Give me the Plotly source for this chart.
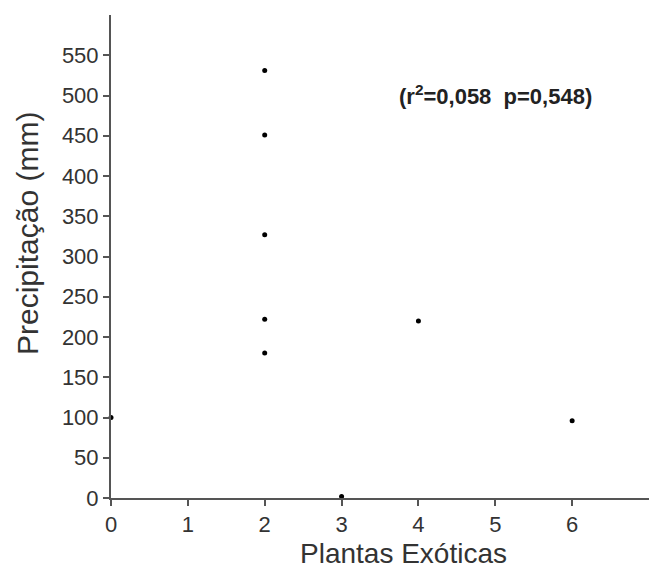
import plotly.graph_objects as go

plantas = [0, 2, 2, 2, 2, 2, 3, 4, 6]
precip = [100, 531, 451, 327, 222, 180, 2, 220, 96]
x_ticks = [0, 1, 2, 3, 4, 5, 6]
y_ticks = [0, 50, 100, 150, 200, 250, 300, 350, 400, 450, 500, 550]

W, H = 649, 573
# plot area in page pixels
PX0, PX1, PY0, PY1 = 111, 649, 15, 498


def px(x):
    return (x - PX0) / (PX1 - PX0)


def py(y):
    return (PY1 - y) / (PY1 - PY0)


FONT = "Liberation Sans, Arial, sans-serif"

fig = go.Figure()
fig.add_trace(go.Scatter(x=plantas, y=precip, mode="markers",
                         marker=dict(color="black", size=5),
                         cliponaxis=False, showlegend=False))

axis_font = dict(family=FONT, size=22, color="#333333")
common = dict(ticks="outside", ticklen=6, tickwidth=1.5, tickcolor="#555555",
              showline=True, linecolor="#555555", linewidth=2,
              showgrid=False, zeroline=False, tickfont=axis_font)
fig.update_xaxes(range=[0, 7.0], tickvals=x_ticks, **common)
fig.update_yaxes(range=[0, 600], tickvals=y_ticks, **common)

fig.add_annotation(text="Plantas Exóticas", xref="paper", yref="paper",
                   x=px(403), y=py(553), xanchor="center", yanchor="middle", showarrow=False,
                   borderpad=0, font=dict(family=FONT, size=28, color="#333333"))
fig.add_annotation(text="Precipitação (mm)", xref="paper", yref="paper",
                   x=px(28), y=py(234), xanchor="center", yanchor="middle",
                   textangle=-90, showarrow=False,
                   font=dict(family=FONT, size=30, color="#333333"))
fig.add_annotation(text="<b>(r<sup>2</sup>=0,058  p=0,548)</b>", xref="paper", yref="paper",
                   x=px(495), y=py(95), xanchor="center", yanchor="middle", showarrow=False,
                   font=dict(family=FONT, size=22, color="#222222"))

fig.update_layout(width=W, height=H, plot_bgcolor="white", paper_bgcolor="white",
                  margin=dict(l=PX0, r=W - PX1, t=PY0, b=H - PY1))
fig.write_html("out.html", config={"displayModeBar": False},
               post_script="document.body.style.margin='0';document.body.style.overflow='hidden';")
